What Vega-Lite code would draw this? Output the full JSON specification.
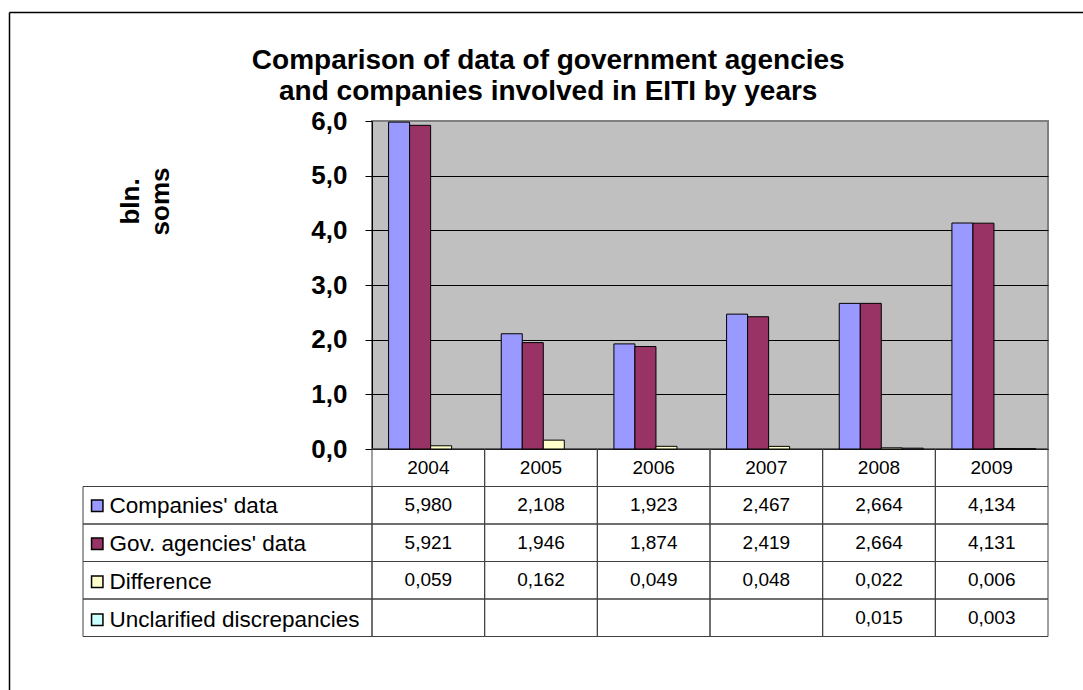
{
  "$schema": "https://vega.github.io/schema/vega-lite/v6.json",
  "width": 676,
  "height": 328,
  "autosize": {"type": "none"},
  "padding": {"left": 372, "top": 121, "right": 35, "bottom": 241},
  "background": "white",
  "view": {"fill": "#C0C0C0", "stroke": "#808080", "strokeWidth": 2},
  "config": {
    "font": "Liberation Sans",
    "locale": {"number": {"decimal": ",", "thousands": " ", "grouping": [3], "currency": ["", ""]}}
  },
  "title": {
    "text": ["Comparison of data of government agencies", "and companies involved in EITI by years"],
    "anchor": "middle",
    "frame": "bounds",
    "font": "Liberation Sans",
    "fontSize": 28,
    "fontWeight": "bold",
    "lineHeight": 31,
    "baseline": "alphabetic",
    "offset": -116.5,
    "dx": 2,
    "color": "black"
  },
  "data": {
    "values": [
      {"year": "2004", "series": "Companies' data", "value": 5.980},
      {"year": "2005", "series": "Companies' data", "value": 2.108},
      {"year": "2006", "series": "Companies' data", "value": 1.923},
      {"year": "2007", "series": "Companies' data", "value": 2.467},
      {"year": "2008", "series": "Companies' data", "value": 2.664},
      {"year": "2009", "series": "Companies' data", "value": 4.134},
      {"year": "2004", "series": "Gov. agencies' data", "value": 5.921},
      {"year": "2005", "series": "Gov. agencies' data", "value": 1.946},
      {"year": "2006", "series": "Gov. agencies' data", "value": 1.874},
      {"year": "2007", "series": "Gov. agencies' data", "value": 2.419},
      {"year": "2008", "series": "Gov. agencies' data", "value": 2.664},
      {"year": "2009", "series": "Gov. agencies' data", "value": 4.131},
      {"year": "2004", "series": "Difference", "value": 0.059},
      {"year": "2005", "series": "Difference", "value": 0.162},
      {"year": "2006", "series": "Difference", "value": 0.049},
      {"year": "2007", "series": "Difference", "value": 0.048},
      {"year": "2008", "series": "Difference", "value": 0.022},
      {"year": "2009", "series": "Difference", "value": 0.006},
      {"year": "2004", "series": "Unclarified discrepancies", "value": null},
      {"year": "2005", "series": "Unclarified discrepancies", "value": null},
      {"year": "2006", "series": "Unclarified discrepancies", "value": null},
      {"year": "2007", "series": "Unclarified discrepancies", "value": null},
      {"year": "2008", "series": "Unclarified discrepancies", "value": 0.015},
      {"year": "2009", "series": "Unclarified discrepancies", "value": 0.003}
    ]
  },
  "layer": [
    {
      "data": {"values": [{}]},
      "mark": {"type": "rule", "stroke": "black", "strokeWidth": 1.5},
      "encoding": {
        "x": {"datum": 0, "type": "quantitative", "scale": {"domain": [0, 1], "range": [-362.5, 711]}, "axis": null},
        "y": {"datum": 0, "type": "quantitative", "scale": {"domain": [0, 1], "range": [-108.5, 580]}, "axis": null},
        "y2": {"datum": 1}
      }
    },
    {
      "data": {"values": [{}]},
      "mark": {"type": "rule", "stroke": "black", "strokeWidth": 1.5},
      "encoding": {
        "x": {"datum": 0, "type": "quantitative", "scale": {"domain": [0, 1], "range": [-362.5, 711]}, "axis": null},
        "x2": {"datum": 1},
        "y": {"datum": 0, "type": "quantitative", "scale": {"domain": [0, 1], "range": [-108.5, 580]}, "axis": null}
      }
    },
    {
      "transform": [{"filter": "datum.year === '2004'"}],
      "mark": {"type": "rect", "filled": false, "stroke": "#404040", "strokeWidth": 1},
      "encoding": {
        "x": {"datum": 0, "type": "quantitative", "scale": {"domain": [0, 1], "range": [-289, 0]}, "axis": null},
        "x2": {"datum": 1},
        "y": {"field": "series", "type": "nominal", "scale": {"domain": ["Companies' data", "Gov. agencies' data", "Difference", "Unclarified discrepancies"], "range": [365.5, 515.5], "paddingInner": 0, "paddingOuter": 0}, "axis": null}
      }
    },
    {
      "transform": [{"filter": "datum.series === 'Companies\\' data'"}],
      "mark": {"type": "rect", "filled": false, "stroke": "#404040", "strokeWidth": 1},
      "encoding": {
        "x": {"field": "year", "type": "ordinal", "scale": {"domain": ["2004", "2005", "2006", "2007", "2008", "2009"], "paddingInner": 0, "paddingOuter": 0}, "axis": null},
        "y": {"datum": 0, "type": "quantitative", "scale": {"domain": [0, 1], "range": [328, 365.5]}, "axis": null},
        "y2": {"datum": 1}
      }
    },
    {
      "mark": {"type": "rect", "filled": false, "stroke": "#404040", "strokeWidth": 1},
      "encoding": {
        "x": {"field": "year", "type": "ordinal", "scale": {"domain": ["2004", "2005", "2006", "2007", "2008", "2009"], "paddingInner": 0, "paddingOuter": 0}, "axis": null},
        "y": {"field": "series", "type": "nominal", "scale": {"domain": ["Companies' data", "Gov. agencies' data", "Difference", "Unclarified discrepancies"], "range": [365.5, 515.5], "paddingInner": 0, "paddingOuter": 0}, "axis": null}
      }
    },
    {
      "mark": {"type": "bar", "stroke": "black", "strokeWidth": 1},
      "encoding": {
        "x": {
          "field": "year", "type": "ordinal",
          "scale": {"domain": ["2004", "2005", "2006", "2007", "2008", "2009"], "paddingInner": 0, "paddingOuter": 0},
          "axis": {"orient": "bottom", "title": null, "ticks": false, "tickSize": 0, "domain": false, "labelPadding": 18.75, "labelBaseline": "middle", "labelAngle": 0, "labelFontSize": 19, "labelColor": "black", "labelFont": "Liberation Sans"}
        },
        "xOffset": {
          "field": "series", "type": "nominal",
          "scale": {"domain": ["Companies' data", "Gov. agencies' data", "Difference", "Unclarified discrepancies"], "paddingInner": 0, "paddingOuter": 0.68, "align": 0.58}
        },
        "y": {
          "field": "value", "type": "quantitative",
          "scale": {"domain": [0, 6], "nice": false, "zero": true},
          "axis": {
            "orient": "left",
            "values": [0, 1, 2, 3, 4, 5, 6],
            "format": ".1f",
            "labelFont": "Liberation Sans", "labelFontSize": 26, "labelFontWeight": "bold", "labelColor": "black",
            "labelPadding": 18, "labelFlush": false, "labelOverlap": false,
            "tickSize": 7, "tickColor": "black", "tickWidth": 1,
            "domain": true, "domainColor": "black", "domainWidth": 1,
            "grid": true, "gridColor": {"condition": {"test": "datum.value === 6", "value": "#808080"}, "value": "black"}, "gridWidth": 1, "gridOpacity": 1,
            "title": ["bln.", "soms"],
            "titleFont": "Liberation Sans", "titleFontSize": 26, "titleFontWeight": "bold", "titleColor": "black",
            "titleAngle": -90, "titleAlign": "center", "titleBaseline": "alphabetic", "titleLineHeight": 30,
            "titleX": -234, "titleY": 80
          }
        },
        "color": {
          "field": "series", "type": "nominal",
          "scale": {"domain": ["Companies' data", "Gov. agencies' data", "Difference", "Unclarified discrepancies"], "range": ["#9999FF", "#993366", "#FFFFCC", "#CCFFFF"]},
          "legend": {
            "orient": "none", "legendX": -286, "legendY": 373.5, "title": null, "padding": 0,
            "symbolType": "square", "symbolSize": 130, "symbolStrokeColor": "black", "symbolStrokeWidth": 1.5, "symbolOpacity": 1,
            "labelFont": "Liberation Sans", "labelFontSize": 22.5, "labelColor": "black", "labelOffset": 1, "labelLimit": 400,
            "rowPadding": 15
          }
        }
      }
    },
    {
      "transform": [{"filter": {"field": "value", "valid": true}}],
      "mark": {"type": "text", "fontSize": 19, "color": "black", "align": "center", "baseline": "middle", "font": "Liberation Sans"},
      "encoding": {
        "x": {"field": "year", "type": "ordinal", "scale": {"domain": ["2004", "2005", "2006", "2007", "2008", "2009"], "paddingInner": 0, "paddingOuter": 0}, "axis": null},
        "y": {"field": "series", "type": "nominal", "scale": {"domain": ["Companies' data", "Gov. agencies' data", "Difference", "Unclarified discrepancies"], "range": [365.5, 515.5], "paddingInner": 0, "paddingOuter": 0}, "axis": null},
        "text": {"field": "value", "type": "quantitative", "format": ".3f"}
      }
    }
  ],
  "resolve": {"scale": {"x": "independent", "y": "independent"}}
}
